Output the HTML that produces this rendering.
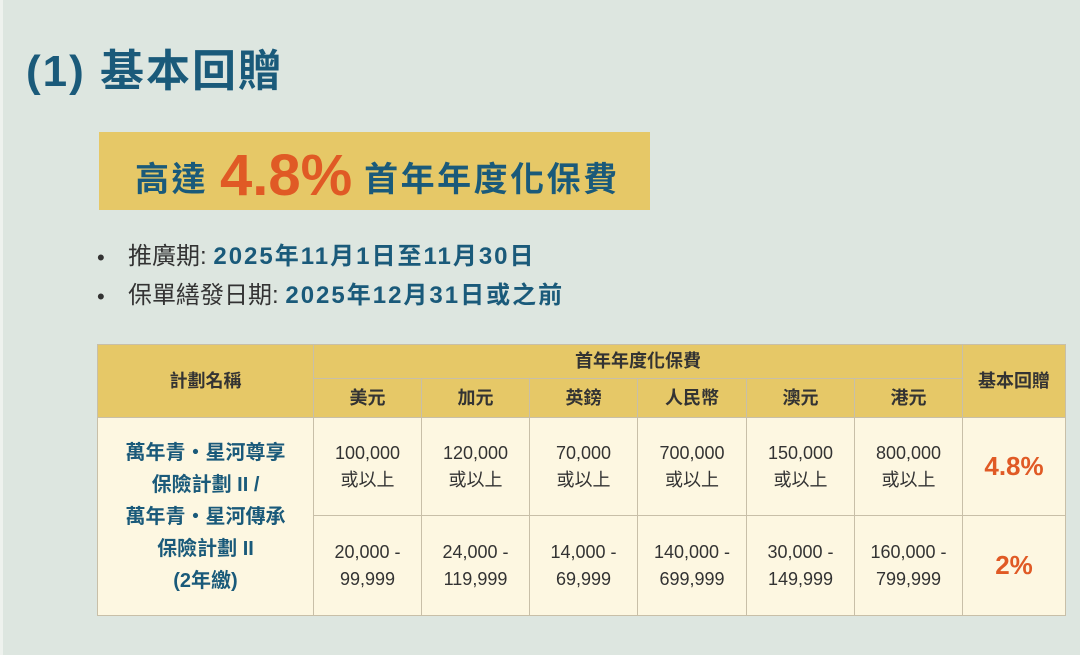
<!DOCTYPE html>
<html><head><meta charset="utf-8"><style>
body{margin:0;width:1080px;height:655px;background:#dde6e0;position:relative;overflow:hidden;font-family:"Liberation Sans","Noto Sans CJK TC",sans-serif}
.a{position:absolute;white-space:nowrap}
table{position:absolute;left:97px;top:344px;border-collapse:collapse;table-layout:fixed}
td{border:1px solid #c8bfa8;text-align:center;padding:0;color:#333;font-size:18px;line-height:27px}
.h{background:#e6c867;color:#333;font-weight:bold;font-size:18px}
.d{background:#fdf7e1}
.n{color:#1a5a7a;font-weight:bold;font-size:20px;line-height:32px}
.p{color:#e05a25;font-weight:bold;font-size:26px}
</style></head><body>
<div class="a" style="left:0;top:0;width:3px;height:655px;background:#eef2ee"></div>
<div class="a" style="left:26px;top:42px;font-size:44px;font-weight:bold;color:#1a5a7a;line-height:60px;letter-spacing:2px">(1)&nbsp;基本回贈</div>
<div class="a" style="left:99px;top:132px;width:551px;height:78px;background:#e6c867"></div>
<div class="a" style="left:135px;top:144px;line-height:64px;color:#1a5a7a;font-weight:bold;font-size:34px;letter-spacing:2.5px">高達 <span style="color:#e05a25;font-size:58px;vertical-align:-4px;letter-spacing:0">4.8%</span> 首年年度化保費</div>
<div class="a" style="left:97px;top:243px;font-size:22px;line-height:30px;color:#333">•</div>
<div class="a" style="left:128px;top:241px;font-size:24px;line-height:32px;color:#333">推廣期: <b style="color:#1a5a7a;letter-spacing:2px">2025年11月1日至11月30日</b></div>
<div class="a" style="left:97px;top:282px;font-size:22px;line-height:30px;color:#333">•</div>
<div class="a" style="left:128px;top:280px;font-size:24px;line-height:32px;color:#333">保單繕發日期: <b style="color:#1a5a7a;letter-spacing:2px">2025年12月31日或之前</b></div>
<table>
<colgroup><col style="width:216px"><col style="width:108px"><col style="width:108px"><col style="width:108px"><col style="width:109px"><col style="width:108px"><col style="width:108px"><col style="width:103px"></colgroup>
<tr style="height:34px"><td class="h" rowspan="2">計劃名稱</td><td class="h" colspan="6">首年年度化保費</td><td class="h" rowspan="2">基本回贈</td></tr>
<tr style="height:39px"><td class="h">美元</td><td class="h">加元</td><td class="h">英鎊</td><td class="h">人民幣</td><td class="h">澳元</td><td class="h">港元</td></tr>
<tr style="height:98px"><td class="d n" rowspan="2">萬年青・星河尊享<br>保險計劃 II /<br>萬年青・星河傳承<br>保險計劃 II<br>(2年繳)</td><td class="d">100,000<br>或以上</td><td class="d">120,000<br>或以上</td><td class="d">70,000<br>或以上</td><td class="d">700,000<br>或以上</td><td class="d">150,000<br>或以上</td><td class="d">800,000<br>或以上</td><td class="d p">4.8%</td></tr>
<tr style="height:100px"><td class="d">20,000 -<br>99,999</td><td class="d">24,000 -<br>119,999</td><td class="d">14,000 -<br>69,999</td><td class="d">140,000 -<br>699,999</td><td class="d">30,000 -<br>149,999</td><td class="d">160,000 -<br>799,999</td><td class="d p">2%</td></tr>
</table>
</body></html>
